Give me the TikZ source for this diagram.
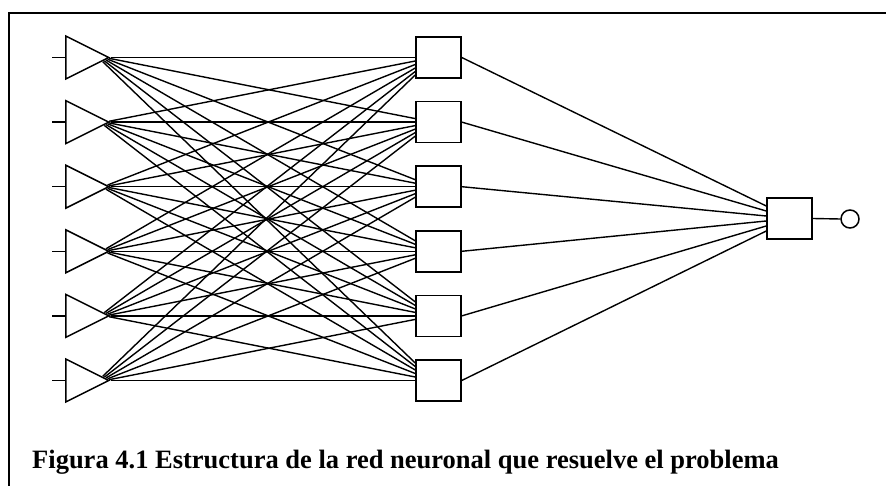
\documentclass[tikz,border=0pt]{standalone}
\usepackage{fontspec}
\setmainfont{Liberation Serif}
\usetikzlibrary{shapes.geometric}

\tikzset{
    neuron/.style={draw, line width=1.5pt, isosceles triangle, isosceles triangle stretches,
        minimum width=43pt, minimum height=43pt, inner sep=0pt, anchor=west},
    unit/.style={draw, line width=1.5pt, rectangle, minimum width=45pt, minimum height=41pt, inner sep=0pt},
    link/.style={line width=1.4pt},
}

\begin{document}
\begin{tikzpicture}[x=1pt,y=-1pt]
    \useasboundingbox (0,0) rectangle (886,486);
    \draw[line width=2.2pt] (9,13) rectangle (892,492);
    \foreach \i in {0,...,5} {
        \pgfmathsetmacro{\ry}{57.5+64.6*\i}
        \node[neuron] (t\i) at (65,\ry) {};
        \node[unit] (h\i) at (438.5,\ry) {};
        \coordinate (in\i) at (52,\ry);
        \draw[link] (in\i) -- (t\i.west);
    }
    \node[unit] (o) at (789.5,218.5) {};
    \node[draw, circle, line width=1.5pt, minimum size=18pt, inner sep=0pt] (y) at (850,219) {};
    \draw[link] (o.east) -- (y.west);
    \foreach \i in {0,...,5} {
        \foreach \j in {0,...,5} {
            \pgfmathsetmacro{\d}{abs(\j-\i)*1.8}
            \pgfmathsetmacro{\sx}{-0.89*\d}
            \pgfmathsetmacro{\sy}{sign(\j-\i)*0.46*\d}
            \pgfmathsetmacro{\ey}{(\i-\j)*3.5}
            \draw[link] ([shift={(\sx,\sy)}]t\i.apex) -- ([shift={(0,\ey)}]h\j.west);
        }
        \pgfmathsetmacro{\oy}{(\i-2.5)*5}
        \draw[link] (h\i.east) -- ([shift={(0,\oy)}]o.west);
    }
    \node[anchor=base west, inner sep=0pt, font=\fontsize{26.5}{30}\selectfont\bfseries] (cap) at (32,468)
        {Figura 4.1 Estructura de la red neuronal que resuelve el problema};
\end{tikzpicture}
\end{document}
